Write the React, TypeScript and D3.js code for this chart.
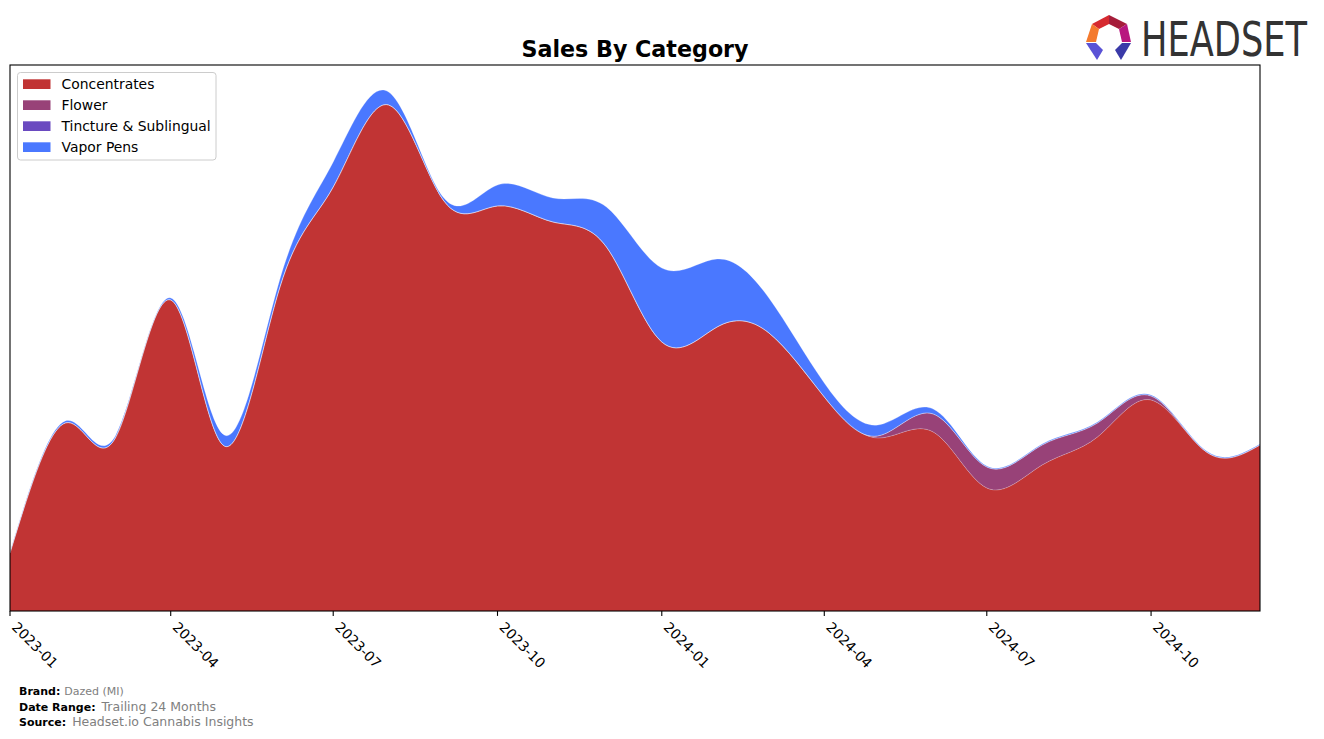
import React, { useLayoutEffect, useRef, useState } from "react";
import * as d3 from "d3";

const months = [
  "2023-01","2023-02","2023-03","2023-04","2023-05","2023-06","2023-07","2023-08","2023-09","2023-10","2023-11","2023-12",
  "2024-01","2024-02","2024-03","2024-04","2024-05","2024-06","2024-07","2024-08","2024-09","2024-10","2024-11","2024-12",
];
const concentrates = [58,188,173,311,165,323,424,506,410,405,389,364,269,284,278,214,173,179,123,146,174,211,159,166];
const flower =       [0,0,0,0,0,0,0,0,0,0,0,0,0,0,0,0,2,18,21,20,14,4,0,0];
const tincture =     [0,0,0,0,0,0,0,0,0,0,0,0,0,0,0,0,0,0,0,0,0,0,0,0];
const vaporPens =    [1,2,2,2,11,8,25,13,3,21,24,40,74,68,35,14,11,5,1,1,1,1,1,1];
const seriesNames = ["Concentrates","Flower","Tincture & Sublingual","Vapor Pens"];
const seriesColors = ["#c13434","#984278","#6a4ac0","#4a78ff"];
const tickLabels = ["2023-01","2023-04","2023-07","2023-10","2024-01","2024-04","2024-07","2024-10"];

const W = 1324, H = 739;
const L = 10, R = 1260, T = 65, B = 611;

function Logo() {
  const ref = useRef<SVGTextElement>(null);
  const [sx, setSx] = useState(1);
  useLayoutEffect(() => {
    if (ref.current) {
      const len = ref.current.getComputedTextLength();
      if (len > 0) setSx(166 / len);
    }
  }, []);
  return (
    <g>
      <polygon points="1092,24 1109,15 1109,24 1099,29" fill="#d62a30" />
      <polygon points="1109,15 1127,24 1119,29 1109,24" fill="#a51d3a" />
      <polygon points="1127,24 1131,42 1122,42 1119,29" fill="#b8177f" />
      <polygon points="1092,24 1099,29 1096,42 1086,42" fill="#f47a2e" />
      <polygon points="1086,43 1096,43 1103,50 1097,60" fill="#5a52d6" />
      <polygon points="1131,43 1122,43 1115,50 1121,60" fill="#3a3aa8" />
      <text ref={ref} transform={`translate(1141,56) scale(${sx},1)`} fontSize={48} fill="#333"
        fontFamily="DejaVu Sans Condensed, DejaVu Sans, sans-serif">HEADSET</text>
    </g>
  );
}

export default function App() {
  const parse = d3.utcParse("%Y-%m");
  const rows = months.map((m, i) => ({
    date: parse(m) as Date,
    Concentrates: concentrates[i],
    Flower: flower[i],
    "Tincture & Sublingual": tincture[i],
    "Vapor Pens": vaporPens[i],
  }));
  const x = d3.scaleUtc().domain([rows[0].date, rows[rows.length - 1].date]).range([L, R]);
  const y = d3.scaleLinear().domain([0, B - T]).range([B, T]);
  const stack = d3.stack<any>().keys(seriesNames);
  const layers = stack(rows);
  const area = d3.area<any>()
    .x((d) => x(d.data.date))
    .y0((d) => y(d[0]))
    .y1((d) => y(d[1]))
    .curve(d3.curveNatural);
  const topLine = d3.line<any>()
    .x((d) => x(d.data.date))
    .y((d) => y(d[1]))
    .curve(d3.curveNatural);

  const ticks = tickLabels.map((t) => ({ label: t, x: x(parse(t) as Date) }));

  return (
    <svg width={W} height={H} style={{ position: "absolute", left: 0, top: 0, background: "#fff" }}
      fontFamily="DejaVu Sans, sans-serif">
      <defs>
        <clipPath id="plotclip"><rect x={L} y={T} width={R - L} height={B - T} /></clipPath>
      </defs>
      <text x={(L + R) / 2} y={57} textAnchor="middle" fontSize={22.2} fontWeight="bold" fill="#000">Sales By Category</text>

      <g clipPath="url(#plotclip)">
        {layers.map((layer, i) => (
          <path key={i} d={area(layer) || ""} fill={seriesColors[i]} />
        ))}
        {layers.map((layer, i) => (
          <path key={"l" + i} d={topLine(layer) || ""} fill="none" stroke="#ffffff" strokeOpacity={0.3} strokeWidth={0.8} />
        ))}
      </g>

      <rect x={L} y={T} width={R - L} height={B - T} fill="none" stroke="#000" strokeWidth={1.1} />

      {ticks.map((t) => (
        <g key={t.label}>
          <line x1={t.x} x2={t.x} y1={B} y2={B + 4.9} stroke="#000" strokeWidth={1.1} />
          <text transform={`translate(${t.x + 8},${621}) rotate(45)`} y={10} fontSize={13.9} fill="#000">{t.label}</text>
        </g>
      ))}

      <g>
        <rect x={17.5} y={72.5} width={198.5} height={87.5} rx={3} fill="#fff" fillOpacity={0.8} stroke="#cccccc" strokeWidth={1} />
        {seriesNames.map((n, i) => (
          <g key={n}>
            <rect x={23} y={79.3 + i * 21} width={27.5} height={9.7} fill={seriesColors[i]} />
            <text x={61.5} y={89 + i * 21} fontSize={13.9} fill="#000">{n}</text>
          </g>
        ))}
      </g>

      <g fontSize={11}>
        <text x={19} y={695}><tspan fontWeight="bold" fill="#000">Brand:</tspan><tspan fill="#808080" dx={4}>Dazed (MI)</tspan></text>
        <text x={19} y={711}><tspan fontWeight="bold" fill="#000">Date Range:</tspan><tspan fill="#808080" dx={6} fontSize={12.5}>Trailing 24 Months</tspan></text>
        <text x={19} y={726}><tspan fontWeight="bold" fill="#000">Source:</tspan><tspan fill="#808080" dx={6} fontSize={12.5}>Headset.io Cannabis Insights</tspan></text>
      </g>

      <Logo />
    </svg>
  );
}
